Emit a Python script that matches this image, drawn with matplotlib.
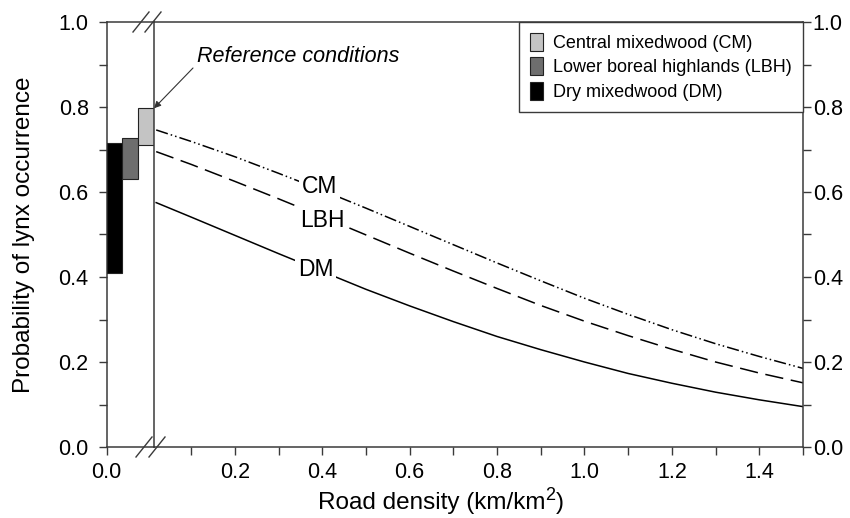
import matplotlib
matplotlib.use("Agg")
import matplotlib.pyplot as plt
import numpy as np
from matplotlib.patches import Patch
from matplotlib.ticker import MultipleLocator, FixedLocator, FormatStrFormatter

plt.rcParams["font.family"] = ["Liberation Sans", "DejaVu Sans"]

# reference conditions (range of probability at zero road density)
region_names = ["Dry mixedwood (DM)", "Lower boreal highlands (LBH)", "Central mixedwood (CM)"]
ref_low = [0.409, 0.630, 0.711]
ref_high = [0.716, 0.726, 0.797]
region_colours = ["#000000", "#6e6e6e", "#c4c4c4"]

# fitted curves
road_density = [0.02, 0.1, 0.2, 0.3, 0.4, 0.5, 0.6, 0.7, 0.8, 0.9, 1.0, 1.1, 1.2, 1.3, 1.4, 1.5]
p_cm = [0.746, 0.719, 0.683, 0.644, 0.604, 0.562, 0.519, 0.476, 0.433, 0.391, 0.350, 0.312, 0.276, 0.243, 0.213, 0.185]
p_lbh = [0.695, 0.665, 0.625, 0.584, 0.542, 0.499, 0.456, 0.414, 0.373, 0.333, 0.296, 0.262, 0.230, 0.200, 0.174, 0.151]
p_dm = [0.575, 0.541, 0.498, 0.455, 0.413, 0.371, 0.332, 0.295, 0.260, 0.229, 0.200, 0.173, 0.150, 0.129, 0.111, 0.095]

W, H = 850, 518
SPINE = "#3a3a3a"
TICK_FS = 15.5
LABEL_FS = 17.5

fig = plt.figure(figsize=(W / 100, H / 100), dpi=100)


def fig_rect(x0, y0, x1, y1):
    return [x0 / W, 1 - y1 / H, (x1 - x0) / W, (y1 - y0) / H]


ax_l = fig.add_axes(fig_rect(106.7, 22, 154, 447))
ax_m = fig.add_axes(fig_rect(154, 22, 803, 447))
ax_m.patch.set_alpha(0)

for ax in (ax_l, ax_m):
    ax.set_ylim(0, 1)
    for s in ax.spines.values():
        s.set_color(SPINE)
        s.set_linewidth(1.1)
    ax.tick_params(which="both", direction="out", length=6, width=1, color=SPINE,
                   labelsize=TICK_FS)

# left panel: reference bars
ax_l.set_xlim(0, 3)
heights = np.array(ref_high) - np.array(ref_low)
ax_l.bar(np.arange(3), heights, bottom=ref_low, width=1, align="edge",
         color=region_colours, edgecolor="#222222", linewidth=0.8, zorder=3)
ax_l.spines["right"].set_visible(False)
ax_l.yaxis.set_major_locator(MultipleLocator(0.2))
ax_l.yaxis.set_minor_locator(MultipleLocator(0.1))
ax_l.yaxis.set_major_formatter(FormatStrFormatter("%.1f"))
ax_l.tick_params(axis="y", pad=7)
ax_l.set_xticks([0])
ax_l.set_xticklabels(["0.0"])
ax_l.tick_params(axis="x", pad=5)

# main panel: curves
ax_m.set_xlim(0.015, 1.5)
ax_m.plot(road_density, p_cm, color="black", lw=1.1,
          linestyle=(0, (8, 2, 1, 2, 1, 2)))
ax_m.plot(road_density, p_lbh, color="black", lw=1.1, linestyle=(0, (12, 5)))
ax_m.plot(road_density, p_dm, color="black", lw=1.1)

ax_m.xaxis.set_major_locator(FixedLocator([0.2, 0.4, 0.6, 0.8, 1.0, 1.2, 1.4]))
ax_m.xaxis.set_minor_locator(FixedLocator([0.1, 0.3, 0.5, 0.7, 0.9, 1.1, 1.3, 1.5]))
ax_m.xaxis.set_major_formatter(FormatStrFormatter("%.1f"))
ax_m.tick_params(axis="x", pad=5)
ax_m.yaxis.tick_right()
ax_m.yaxis.set_major_locator(MultipleLocator(0.2))
ax_m.yaxis.set_minor_locator(MultipleLocator(0.1))
ax_m.yaxis.set_major_formatter(FormatStrFormatter("%.1f"))
ax_m.tick_params(axis="y", pad=1)

# curve labels
label_pos = {"CM": (0.394, 0.614), "LBH": (0.401, 0.534), "DM": (0.385, 0.417)}
for name, (lx, ly) in label_pos.items():
    ax_m.text(lx, ly, name, fontsize=16.5, ha="center", va="center",
              bbox=dict(facecolor="white", edgecolor="none", pad=2), zorder=4)

# legend
handles = [Patch(facecolor=c, edgecolor="#222222", linewidth=0.8)
           for c in region_colours[::-1]]
leg = ax_m.legend(handles, region_names[::-1], loc="upper right", fontsize=13,
                  borderaxespad=0, frameon=True, fancybox=False, framealpha=1,
                  handlelength=0.75, handleheight=1.15, handletextpad=0.55,
                  labelspacing=0.3, borderpad=0.6)
leg.get_frame().set_edgecolor(SPINE)
leg.get_frame().set_linewidth(1.0)

# annotation
fig.text(197 / W, 1 - 57 / H, "Reference conditions", fontsize=15.5, style="italic",
         ha="left", va="center")
ax_l.annotate("", xy=(3, ref_high[2]), xycoords="data",
              xytext=(193, H - 68), textcoords="figure pixels",
              arrowprops=dict(arrowstyle="-|>", color="#333333", lw=0.8,
                              mutation_scale=10, shrinkA=0, shrinkB=0),
              annotation_clip=False)

# axis break marks
for cx, cy in [(141, 22), (153, 22), (144, 447), (157, 447)]:
    fig.add_artist(plt.Line2D([(cx - 8) / W, (cx + 8) / W],
                              [1 - (cy + 10) / H, 1 - (cy - 10) / H],
                              color=SPINE, lw=1.0))

# axis labels
fig.text(24 / W, 1 - 234.5 / H, "Probability of lynx occurrence", fontsize=LABEL_FS,
         rotation=90, ha="center", va="center")

# x label with a large superscript, built from three pieces
renderer = fig.canvas.get_renderer()
base_y = H - 509
parts = [("Road density (km/km", LABEL_FS, 0), ("2", 13, 9), (")", LABEL_FS, 0)]
pieces = []
x = 0.0
for txt, fs, dy in parts:
    t = fig.text(x / W, (base_y + dy) / H, txt, fontsize=fs, ha="left", va="baseline")
    w = t.get_window_extent(renderer).width
    pieces.append((t, x, dy))
    x += w + (1 if txt == "2" else 0)
shift = 441 - x / 2
for t, x0, dy in pieces:
    t.set_position(((x0 + shift) / W, (base_y + dy) / H))

fig.savefig("out.png", dpi=100)
